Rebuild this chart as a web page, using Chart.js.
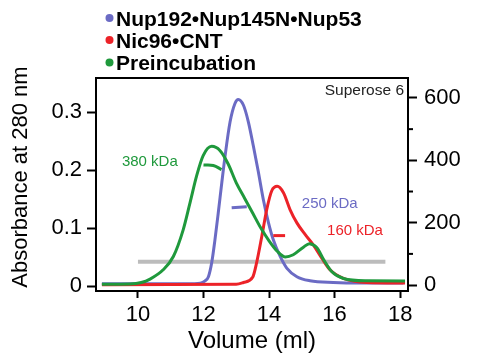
<!DOCTYPE html>
<html>
<head>
<meta charset="utf-8">
<script src="https://cdn.jsdelivr.net/npm/chart.js@4/dist/chart.umd.min.js"></script>
<style>
html,body{margin:0;padding:0;background:#fff;}
canvas{display:block;}
</style>
</head>
<body>
<canvas id="c" width="486" height="358"></canvas>
<script>
// ---- data ----
const seriesNames = ['Nup192\u2022Nup145N\u2022Nup53', 'Nic96\u2022CNT', 'Preincubation'];

const blueVol = [8.9, 11.5, 11.9, 12.05, 12.15, 12.25, 12.35, 12.45, 12.56, 12.66, 12.81, 12.96, 13.06, 13.22, 13.37, 13.52, 13.67, 13.83, 13.98, 14.13, 14.34, 14.54, 14.85, 15.25, 15.96, 16.8, 18.1];
const blueAbs = [0.004, 0.004, 0.005, 0.009, 0.016, 0.04, 0.08, 0.126, 0.179, 0.225, 0.283, 0.315, 0.322, 0.312, 0.283, 0.242, 0.198, 0.148, 0.11, 0.08, 0.051, 0.031, 0.016, 0.009, 0.006, 0.005, 0.005];

const redVol = [8.9, 13.0, 13.22, 13.5, 13.62, 13.78, 13.93, 14.08, 14.25, 14.44, 14.64, 14.85, 15.1, 15.35, 15.61, 15.86, 16.27, 16.98, 18.15];
const redAbs = [0.002, 0.003, 0.006, 0.015, 0.04, 0.086, 0.132, 0.164, 0.172, 0.161, 0.132, 0.109, 0.089, 0.071, 0.048, 0.028, 0.013, 0.006, 0.005];

const greenVol = [8.9, 9.76, 10.1, 10.37, 10.77, 11.08, 11.38, 11.59, 11.79, 11.99, 12.25, 12.5, 12.75, 13.0, 13.25, 13.5, 13.75, 14.0, 14.25, 14.5, 14.74, 15.05, 15.23, 15.46, 15.66, 15.91, 16.27, 16.98, 18.15];
const greenAbs = [0.003, 0.0035, 0.006, 0.012, 0.028, 0.051, 0.097, 0.144, 0.19, 0.225, 0.241, 0.234, 0.211, 0.178, 0.152, 0.126, 0.1, 0.078, 0.06, 0.05, 0.054, 0.067, 0.073, 0.066, 0.046, 0.025, 0.013, 0.009, 0.0087];

// grey reference bar
const barVol = [10.0, 17.55];
const barAbs = [0.042, 0.042];

// molecular-weight marker dashes
const greenMarkVol = [12.0, 12.3, 12.55];
const greenMarkAbs = [0.209, 0.208, 0.201];
const blueMarkVol = [12.86, 13.32];
const blueMarkAbs = [0.135, 0.137];
const redMarkVol = [14.13, 14.49];
const redMarkAbs = [0.087, 0.087];

// annotations
const mwLabels = ['380 kDa', '250 kDa', '160 kDa'];
const mwLabelVol = [9.51, 15.0, 15.77];
const mwLabelAbs = [0.214, 0.141, 0.096];
const columnLabel = 'Superose 6';
const yTitle = 'Absorbance at 280 nm';

// ticks
const xTicks = [10, 12, 14, 16, 18];
const yTicks = [0, 0.1, 0.2, 0.3];
const yTickLabels = ['0', '0.1', '0.2', '0.3'];
const y2Ticks = [0, 200, 400, 600];
const y2MinorTicks = [100, 300, 500];

// ---- styling ----
const FONT = "'Liberation Sans', Arial, sans-serif";
const BLUE = '#6b6bc4';
const RED = '#ec2228';
const GREEN = '#1f993c';
const GREY = '#bcbcbc';

const pts = (xs, ys) => xs.map((x, i) => ({x: x, y: ys[i]}));

function curve(label, xs, ys, color, order) {
  return {label, data: pts(xs, ys), borderColor: color, borderWidth: 3, pointRadius: 0,
    fill: false, cubicInterpolationMode: 'monotone', order, yAxisID: 'y'};
}
function seg(xs, ys, color, width, order) {
  return {label: '', data: pts(xs, ys), borderColor: color, borderWidth: width, pointRadius: 0,
    fill: false, tension: 0.4, order, yAxisID: 'y', borderCapStyle: 'butt'};
}

const colors = [BLUE, RED, GREEN];

const overlay = {
  id: 'overlay',
  afterDraw(chart) {
    const {ctx, chartArea: a, scales: {x, y, y2}} = chart;
    ctx.save();
    // top border of the frame
    ctx.strokeStyle = '#000';
    ctx.lineWidth = 2;
    ctx.beginPath();
    ctx.moveTo(a.left - 1, a.top);
    ctx.lineTo(a.right + 1, a.top);
    ctx.stroke();
    // minor ticks on the right axis
    y2MinorTicks.forEach(v => {
      const py = y2.getPixelForValue(v);
      ctx.beginPath();
      ctx.moveTo(a.right, py);
      ctx.lineTo(a.right + 5, py);
      ctx.stroke();
    });
    // left axis title
    ctx.save();
    ctx.translate(21, 177);
    ctx.rotate(-Math.PI / 2);
    ctx.font = '22px ' + FONT;
    ctx.fillStyle = '#000';
    ctx.textAlign = 'center';
    ctx.textBaseline = 'middle';
    ctx.fillText(yTitle, 0, 0);
    ctx.restore();
    // MW labels
    ctx.font = '15px ' + FONT;
    ctx.textBaseline = 'middle';
    ctx.textAlign = 'left';
    const mwColors = [GREEN, BLUE, RED];
    mwLabels.forEach((t, i) => {
      ctx.fillStyle = mwColors[i];
      ctx.fillText(t, x.getPixelForValue(mwLabelVol[i]), y.getPixelForValue(mwLabelAbs[i]));
    });
    // column label
    ctx.font = '15.5px ' + FONT;
    ctx.fillStyle = '#222';
    ctx.textAlign = 'right';
    ctx.fillText(columnLabel, a.right - 4, a.top + 13);
    // legend
    ctx.textAlign = 'left';
    ctx.textBaseline = 'alphabetic';
    ctx.font = 'bold 21px ' + FONT;
    const baselines = [25.5, 47.5, 70];
    seriesNames.forEach((n, i) => {
      ctx.fillStyle = colors[i];
      ctx.beginPath();
      ctx.arc(109.5, baselines[i] - 7.5, 4, 0, Math.PI * 2);
      ctx.fill();
      ctx.fillStyle = '#000';
      ctx.fillText(n, 116, baselines[i]);
    });
    ctx.restore();
  }
};

const tickFont = {family: FONT, size: 22};

new Chart(document.getElementById('c'), {
  type: 'line',
  data: {
    datasets: [
      seg(barVol, barAbs, GREY, 4, 10),
      curve(seriesNames[0], blueVol, blueAbs, BLUE, 6),
      curve(seriesNames[1], redVol, redAbs, RED, 5),
      curve(seriesNames[2], greenVol, greenAbs, GREEN, 4),
      seg(greenMarkVol, greenMarkAbs, GREEN, 3, 1),
      seg(blueMarkVol, blueMarkAbs, BLUE, 3, 1),
      seg(redMarkVol, redMarkAbs, RED, 3, 1)
    ]
  },
  options: {
    responsive: false,
    animation: false,
    devicePixelRatio: 1,
    layout: {padding: {top: 78, left: 0, right: 0, bottom: 0}},
    plugins: {legend: {display: false}, tooltip: {enabled: false}},
    scales: {
      x: {
        type: 'linear', min: 8.72, max: 18.24,
        afterBuildTicks: s => { s.ticks = xTicks.map(v => ({value: v})); },
        afterFit: s => { s.height = 67; },
        grid: {drawOnChartArea: false, tickLength: 7, tickColor: '#000', tickWidth: 2},
        border: {color: '#000', width: 2},
        ticks: {font: tickFont, color: '#000', padding: 4, maxRotation: 0, callback: v => String(v)},
        title: {display: true, text: 'Volume (ml)', color: '#000', font: {family: FONT, size: 24}, padding: {top: 0, bottom: 2}}
      },
      y: {
        type: 'linear', position: 'left', min: -0.0086, max: 0.359,
        afterBuildTicks: s => { s.ticks = yTicks.map(v => ({value: v})); },
        afterFit: s => { s.width = 96; },
        grid: {drawOnChartArea: false, tickLength: 9, tickColor: '#000', tickWidth: 2},
        border: {color: '#000', width: 2},
        ticks: {font: tickFont, color: '#000', padding: 5, callback: v => yTickLabels[yTicks.indexOf(v)] ?? String(v)}
      },
      y2: {
        type: 'linear', position: 'right', min: -19, max: 664,
        afterBuildTicks: s => { s.ticks = y2Ticks.map(v => ({value: v})); },
        afterFit: s => { s.width = 78; },
        grid: {drawOnChartArea: false, tickLength: 9, tickColor: '#000', tickWidth: 2},
        border: {color: '#000', width: 2},
        ticks: {font: tickFont, color: '#000', padding: 7, callback: v => String(v)}
      }
    }
  },
  plugins: [overlay]
});
</script>
</body>
</html>
